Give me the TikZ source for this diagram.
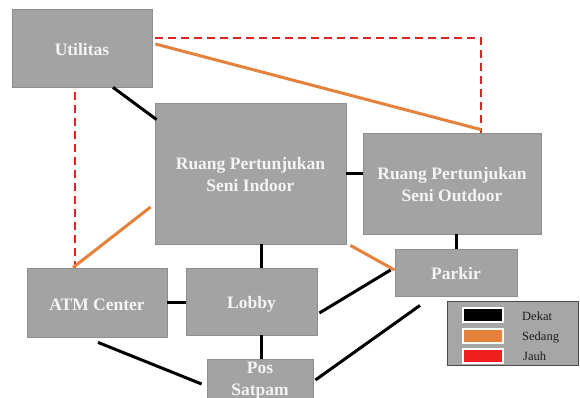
\documentclass[tikz,border=0pt]{standalone}
\usepackage{fontspec}
\setmainfont{Liberation Serif}
\usetikzlibrary{calc}
\definecolor{boxgray}{HTML}{A3A3A3}
\definecolor{boxedge}{HTML}{8E8E8E}
\definecolor{boxtext}{HTML}{F4F4F4}
\definecolor{orangeline}{HTML}{E5813B}
\definecolor{redline}{HTML}{E02424}
\definecolor{leggray}{HTML}{A6A6A6}
\definecolor{legedge}{HTML}{4A4A4A}
\definecolor{swred}{HTML}{F01E1E}
\definecolor{legtext}{HTML}{1E1E1E}
\begin{document}
\begin{tikzpicture}[x=1pt,y=-1pt,
  box/.style={rectangle, draw=boxedge, line width=0.8pt, fill=boxgray, text=boxtext,
    font=\fontsize{17.5}{22}\selectfont\bfseries, align=center, inner sep=0pt},
  boxtxt/.style={text=boxtext, font=\fontsize{17.5}{22}\selectfont\bfseries, align=center, inner sep=0pt},
  near/.style={line width=3pt, black},
  mid/.style={line width=3pt, orangeline},
  far/.style={line width=2.2pt, redline, dash pattern=on 8pt off 5pt},
  swatch/.style={rectangle, draw=white, line width=1.5pt, minimum width=40pt, minimum height=14pt, inner sep=0pt},
  leglab/.style={anchor=west, inner sep=0pt, text=legtext, font=\fontsize{12.5}{14}\selectfont},
]
\fill[white] (0,0) rectangle (580,398);
\useasboundingbox (0,0) rectangle (580,398);

% boxes
\node[box, minimum width=140pt, minimum height=78pt] (util) at (82,48) {};
\node[boxtxt] (utilt) at ([shift={(0,2)}]util.center) {Utilitas};
\node[box, minimum width=191pt, minimum height=141pt] (indoor) at (250.5,173.5) {};
\node[boxtxt] (indoort) at ([shift={(0,1)}]indoor.center) {Ruang Pertunjukan\\Seni Indoor};
\node[box, minimum width=178pt, minimum height=101pt] (outdoor) at (452,183.5) {};
\node[boxtxt] (outdoort) at ([shift={(0,1)}]outdoor.center) {Ruang Pertunjukan\\Seni Outdoor};
\node[box, minimum width=122pt, minimum height=47pt] (parkir) at (456,272.5) {};
\node[boxtxt] (parkirt) at ([shift={(0,1)}]parkir.center) {Parkir};
\node[box, minimum width=140pt, minimum height=69pt] (atm) at (97,302.5) {};
\node[boxtxt] (atmt) at ([shift={(0,2)}]atm.center) {ATM Center};
\node[box, minimum width=131pt, minimum height=67pt] (lobby) at (251.5,301.5) {};
\node[boxtxt] (lobbyt) at ([shift={(0,2.5)}]lobby.center) {Lobby};
\node[box, minimum width=106pt, minimum height=42pt] (pos) at (260,380) {};
\node[boxtxt] (post) at ([shift={(0,1)}]pos.center) {Pos\\Satpam};

% connectors
\draw[near] ([shift={(31,0)}]util.south) -- ([shift={(2,17)}]indoor.north west);
\draw[far] ([shift={(-7,5)}]util.south) -- ([shift={(-22,0)}]atm.north);
\draw[far] ([shift={(3,-10)}]util.east) -| ([shift={(29,0)}]outdoor.north);
\draw[mid] ([shift={(3,-4)}]util.east) -- ([shift={(29,-3)}]outdoor.north);
\draw[near] (indoor.east) -- (indoor.east -| outdoor.west);
\draw[mid] ([shift={(-4,33.5)}]indoor.west) -- ([shift={(-24,0)}]atm.north);
\draw[near] ([shift={(10.5,0)}]indoor.south) -- ([shift={(9.5,0)}]lobby.north);
\draw[mid] ([shift={(4,1)}]indoor.south east) -- ([shift={(0,-2.5)}]parkir.west);
\draw[near] ([shift={(4,0)}]outdoor.south) -- (parkir.north);
\draw[near] (atm.east) -- (atm.east -| lobby.west);
\draw[near] ([shift={(2,11.5)}]lobby.east) -- ([shift={(-4,-2.5)}]parkir.west);
\draw[near] ([shift={(-36,9)}]parkir.south) -- ([shift={(2,0)}]pos.east);
\draw[near] ([shift={(1,5)}]atm.south) -- ([shift={(-5,4)}]pos.west);
\draw[near] ([shift={(9.5,0)}]lobby.south) -- ([shift={(1,0)}]pos.north);

% legend
\node[rectangle, draw=legedge, line width=0.8pt, fill=leggray, minimum width=131pt, minimum height=64pt, inner sep=0pt] (legend) at (512.5,333) {};
\node[swatch, fill=black] (sw1) at (483,315) {};
\node[swatch, fill=orangeline] (sw2) at (483,336) {};
\node[swatch, fill=swred] (sw3) at (483,356) {};
\node[leglab] (l1) at (522,316) {Dekat};
\node[leglab] (l2) at (522,338) {Sedang};
\node[leglab] (l3) at (523,356) {Jauh};
\end{tikzpicture}
\end{document}
